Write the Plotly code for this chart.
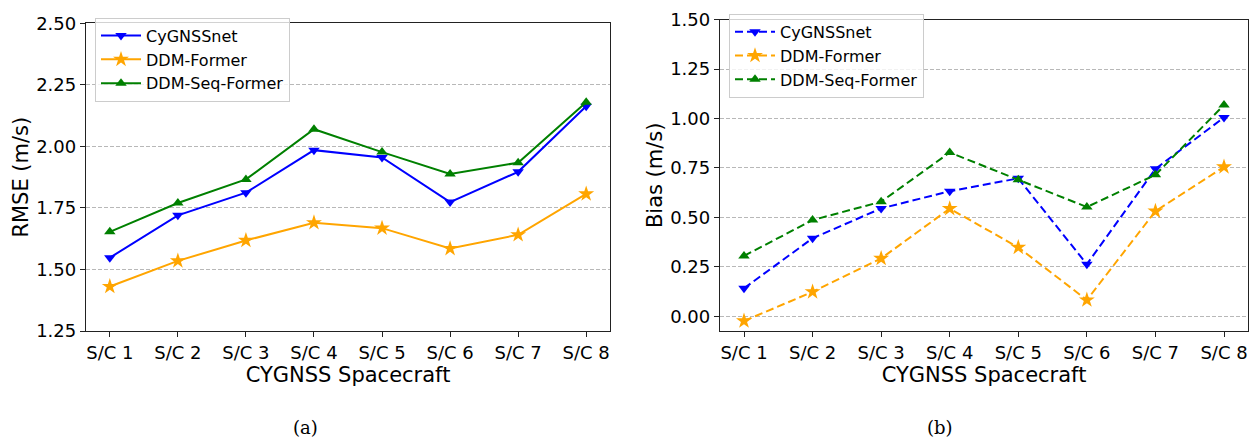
import plotly.graph_objects as go

# Spacecraft labels shared by both panels
spacecraft = ["S/C 1", "S/C 2", "S/C 3", "S/C 4", "S/C 5", "S/C 6", "S/C 7", "S/C 8"]

# RMSE (m/s) per spacecraft
rmse_cygnssnet = [1.548, 1.720, 1.812, 1.985, 1.955, 1.774, 1.897, 2.163]
rmse_ddm_former = [1.431, 1.535, 1.618, 1.690, 1.668, 1.585, 1.641, 1.807]
rmse_ddm_seq_former = [1.653, 1.770, 1.866, 2.070, 1.977, 1.888, 1.934, 2.180]

# Bias (m/s) per spacecraft
bias_cygnssnet = [0.141, 0.394, 0.545, 0.632, 0.697, 0.263, 0.745, 1.005]
bias_ddm_former = [-0.024, 0.123, 0.292, 0.544, 0.348, 0.082, 0.531, 0.755]
bias_ddm_seq_former = [0.305, 0.486, 0.579, 0.828, 0.690, 0.552, 0.715, 1.068]

model_names = ["CyGNSSnet", "DDM-Former", "DDM-Seq-Former"]
model_colors = ["#0000ff", "#ffa500", "#008000"]
model_symbols = ["triangle-down", "star", "triangle-up"]
marker_sizes = [10, 12, 10]

FONT = "DejaVu Sans"

fig = go.Figure()

rmse_series = [rmse_cygnssnet, rmse_ddm_former, rmse_ddm_seq_former]
bias_series = [bias_cygnssnet, bias_ddm_former, bias_ddm_seq_former]

for name, vals, color, sym, ms in zip(model_names, rmse_series, model_colors, model_symbols, marker_sizes):
    fig.add_trace(go.Scatter(
        x=spacecraft, y=vals, name=name, mode="lines+markers",
        line=dict(color=color, width=2),
        marker=dict(symbol=sym, size=ms, color=color, line=dict(width=0)),
        xaxis="x", yaxis="y", legend="legend",
    ))

for name, vals, color, sym, ms in zip(model_names, bias_series, model_colors, model_symbols, marker_sizes):
    fig.add_trace(go.Scatter(
        x=spacecraft, y=vals, name=name, mode="lines+markers",
        line=dict(color=color, width=2, dash="8px,4px"),
        marker=dict(symbol=sym, size=ms, color=color, line=dict(width=0)),
        xaxis="x2", yaxis="y2", legend="legend2",
    ))

W, H = 1255, 442

def px_x(p):
    return p / W

def px_y(p):
    return 1 - p / H

common_x = dict(
    type="category", range=[-0.35, 7.35], showgrid=False,
    showline=True, mirror=True, linecolor="#222222", linewidth=1.3,
    ticks="outside", ticklen=5, tickwidth=1.2, tickcolor="#222222",
    tickfont=dict(family=FONT, size=18, color="black"),
    title=dict(text="CYGNSS Spacecraft", font=dict(family=FONT, size=21, color="black"), standoff=3),
    zeroline=False,
)
common_y = dict(
    showgrid=True, gridcolor="#b8b8b8", gridwidth=1, griddash="4px,2px",
    showline=True, mirror=True, linecolor="#222222", linewidth=1.3,
    ticks="outside", ticklen=5, tickwidth=1.2, tickcolor="#222222",
    tickfont=dict(family=FONT, size=18, color="black"),
    tickformat=".2f", dtick=0.25, tick0=0, zeroline=False,
)

legend_common = dict(
    bgcolor="rgba(255,255,255,0.8)", bordercolor="#cccccc", borderwidth=1,
    font=dict(family=FONT, size=16, color="black"),
    xanchor="left", yanchor="top", itemwidth=40, tracegroupgap=0,
)

fig.update_layout(
    width=W, height=H, margin=dict(l=0, r=0, t=0, b=0),
    paper_bgcolor="white", plot_bgcolor="white",
    font=dict(family=FONT),
    xaxis=dict(domain=[px_x(86), px_x(610)], anchor="y", **common_x),
    yaxis=dict(domain=[px_y(336), px_y(13)], anchor="x", range=[1.25, 2.50],
               title=dict(text="RMSE (m/s)", font=dict(family=FONT, size=21, color="black"), standoff=1),
               **common_y),
    xaxis2=dict(domain=[px_x(720), px_x(1248)], anchor="y2", **common_x),
    yaxis2=dict(domain=[px_y(336), px_y(9)], anchor="x2", range=[-0.075, 1.50],
                title=dict(text="Bias (m/s)", font=dict(family=FONT, size=21, color="black"), standoff=1),
                **common_y),
    legend=dict(x=px_x(95), y=px_y(7), **legend_common),
    legend2=dict(x=px_x(729), y=px_y(3), **legend_common),
    showlegend=True,
)

# Panel captions
for label, xc in [("(a)", 305), ("(b)", 940)]:
    fig.add_annotation(
        text=label, x=px_x(xc), y=px_y(437), xref="paper", yref="paper",
        xanchor="center", yanchor="middle", showarrow=False,
        font=dict(family="DejaVu Serif", size=18, color="black"),
    )

fig.write_html("out.html")
